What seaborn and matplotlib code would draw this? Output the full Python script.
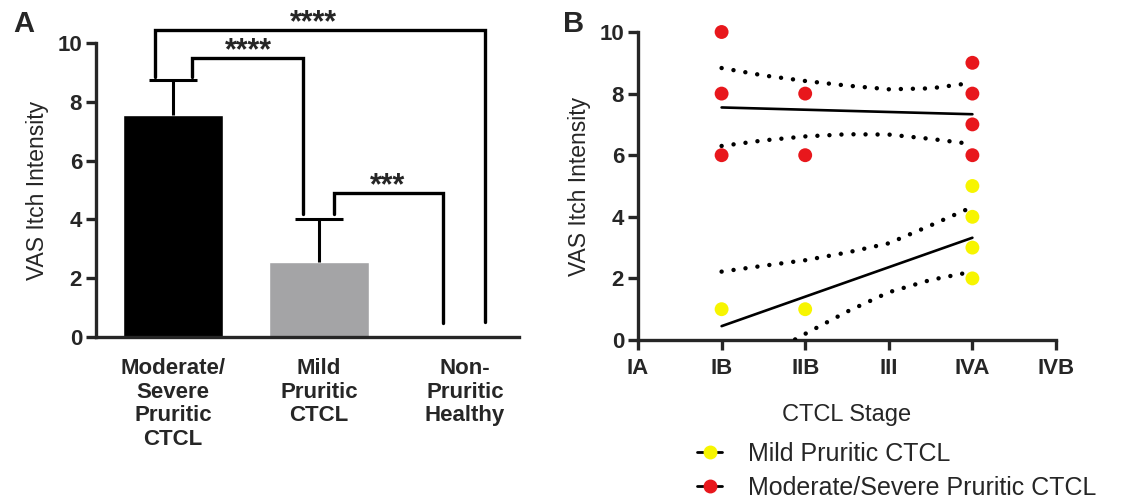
import numpy as np
import pandas as pd
import matplotlib
matplotlib.use("Agg")
import matplotlib.pyplot as plt
from matplotlib.lines import Line2D
import seaborn as sns

sns.set_theme(style="ticks")
plt.rcParams['font.family'] = ['Liberation Sans', 'DejaVu Sans']

# ---------------- Data ----------------
# Panel A
groups = ["Moderate/\nSevere\nPruritic\nCTCL", "Mild\nPruritic\nCTCL", "Non-\nPruritic\nHealthy"]
group_means = [7.55, 2.55, 0.0]
group_err = [1.2, 1.45, 0.0]
sig_labels = ["****", "****", "***"]

# Panel B
stage_labels = ["IA", "IB", "IIB", "III", "IVA", "IVB"]
mild_x = [1, 2, 4, 4, 4, 4]
mild_y = [1, 1, 5, 4, 3, 2]
severe_x = [1, 1, 1, 2, 2, 4, 4, 4, 4]
severe_y = [10, 8, 6, 8, 6, 9, 8, 7, 6]

fit_x = [1, 4]
mild_fit_y = [0.45, 3.32]
severe_fit_y = [7.55, 7.33]

ci_x = [1, 1.5, 2, 2.5, 3, 3.5, 4]
mild_ci_upper = [2.22, 2.41, 2.59, 2.84, 3.14, 3.72, 4.32]
mild_ci_lower = [-1.32, -0.55, 0.20, 0.92, 1.55, 1.95, 2.22]
severe_ci_upper = [8.83, 8.59, 8.41, 8.26, 8.14, 8.17, 8.35]
severe_ci_lower = [6.30, 6.48, 6.61, 6.68, 6.67, 6.53, 6.36]

series_names = ["Mild Pruritic CTCL", "Moderate/Severe Pruritic CTCL"]

# ---------------- Figure ----------------
W, H = 1142, 503
fig = plt.figure(figsize=(W / 100, H / 100), dpi=100)

def px_axes(left, right, top, bottom):
    return fig.add_axes([left / W, 1 - bottom / H, (right - left) / W, (bottom - top) / H])

SPW = 2.4

# ---- Panel A ----
axA = px_axes(96, 519, 43, 337)
dfA = pd.DataFrame({"group": groups, "value": group_means})
sns.barplot(data=dfA, x="group", y="value", hue="group", order=groups,
            palette=["#000000", "#A4A4A6", "#FFFFFF"], width=0.68,
            legend=False, ax=axA, saturation=1)
eb = axA.errorbar(range(3)[:2], group_means[:2], yerr=[[0, 0], group_err[:2]],
                  fmt="none", ecolor="black", elinewidth=2.2, capsize=17.5,
                  capthick=2.2, zorder=5)
eb[1][0].set_visible(False)  # only the upper cap
axA.set_xlim(-0.527, 2.37)
axA.set_ylim(0, 10)
axA.set_yticks([0, 2, 4, 6, 8, 10])
axA.set_xlabel("")
axA.set_ylabel("VAS Itch Intensity", fontsize=16.5, labelpad=6)
for s in ["top", "right"]:
    axA.spines[s].set_visible(False)
for s in ["left", "bottom"]:
    axA.spines[s].set_linewidth(SPW)
axA.tick_params(axis="y", width=SPW, length=7, labelsize=16, pad=3)
axA.tick_params(axis="x", length=0, labelsize=16, pad=15)
for t in axA.get_yticklabels():
    t.set_fontweight("bold")
for t in axA.get_xticklabels():
    t.set_fontweight("bold")
    t.set_linespacing(1.17)

def bracket(ax, x1, x2, y, y1, y2, label, lx):
    ax.plot([x1, x1, x2, x2], [y1, y, y, y2], color="black", lw=2.4, clip_on=False,
            solid_joinstyle="miter", zorder=6)
    ax.text(lx, y - 0.04, label, ha="center", va="baseline", fontsize=22,
            fontweight="bold", clip_on=False)

bracket(axA, -0.12, 2.14, 10.44, 8.85, 0.5, sig_labels[0], 0.96)
bracket(axA, 0.13, 0.89, 9.49, 8.85, 4.2, sig_labels[1], 0.52)
bracket(axA, 1.10, 1.85, 4.9, 4.2, 0.47, sig_labels[2], 1.47)

fig.text(13 / W, 1 - 32 / H, "A", fontsize=21, fontweight="bold", va="baseline")
fig.text(563 / W, 1 - 32 / H, "B", fontsize=21, fontweight="bold", va="baseline")

# ---- Panel B ----
axB = px_axes(638, 1056, 32, 340)
RED = "#E8171C"
YEL = "#F7F500"

dfB = pd.DataFrame({
    "stage": mild_x + severe_x,
    "vas": mild_y + severe_y,
    "group": [series_names[0]] * len(mild_x) + [series_names[1]] * len(severe_x),
})
sns.scatterplot(data=dfB, x="stage", y="vas", hue="group",
                palette={series_names[0]: YEL, series_names[1]: RED},
                s=100, edgecolor="none", legend=False, ax=axB, zorder=4, clip_on=False)

for fy in (severe_fit_y, mild_fit_y):
    sns.lineplot(x=fit_x, y=fy, color="black", lw=1.9, ax=axB, zorder=3)
for cy in (severe_ci_upper, severe_ci_lower, mild_ci_upper, mild_ci_lower):
    axB.plot(ci_x, cy, color="black", lw=3.2, linestyle=(0, (0.01, 2.7)),
             dash_capstyle="round", zorder=3)

axB.set_xlim(0, 5)
axB.set_ylim(0, 10)
axB.set_xticks(range(6))
axB.set_xticklabels(stage_labels)
axB.set_yticks([0, 2, 4, 6, 8, 10])
axB.set_xlabel("CTCL Stage", fontsize=17, labelpad=18)
axB.set_ylabel("VAS Itch Intensity", fontsize=16.5, labelpad=6)
for s in ["top", "right"]:
    axB.spines[s].set_visible(False)
for s in ["left", "bottom"]:
    axB.spines[s].set_linewidth(SPW)
axB.tick_params(axis="y", width=SPW, length=7, labelsize=16, pad=3)
axB.tick_params(axis="x", width=SPW, length=7, labelsize=16, pad=6)
for t in axB.get_yticklabels() + axB.get_xticklabels():
    t.set_fontweight("bold")

handles = [
    Line2D([], [], color="black", lw=2, marker="o", markersize=9,
           markerfacecolor=YEL, markeredgecolor=YEL),
    Line2D([], [], color="black", lw=2, marker="o", markersize=9,
           markerfacecolor=RED, markeredgecolor=RED),
]
fig.legend(handles, series_names, loc="upper left",
           bbox_to_anchor=(697 / W, 1 - 442 / H), frameon=False,
           fontsize=18, handlelength=1.0, handletextpad=1.05, labelspacing=0.4,
           borderpad=0, borderaxespad=0)

fig.savefig("out.png", dpi=100)
